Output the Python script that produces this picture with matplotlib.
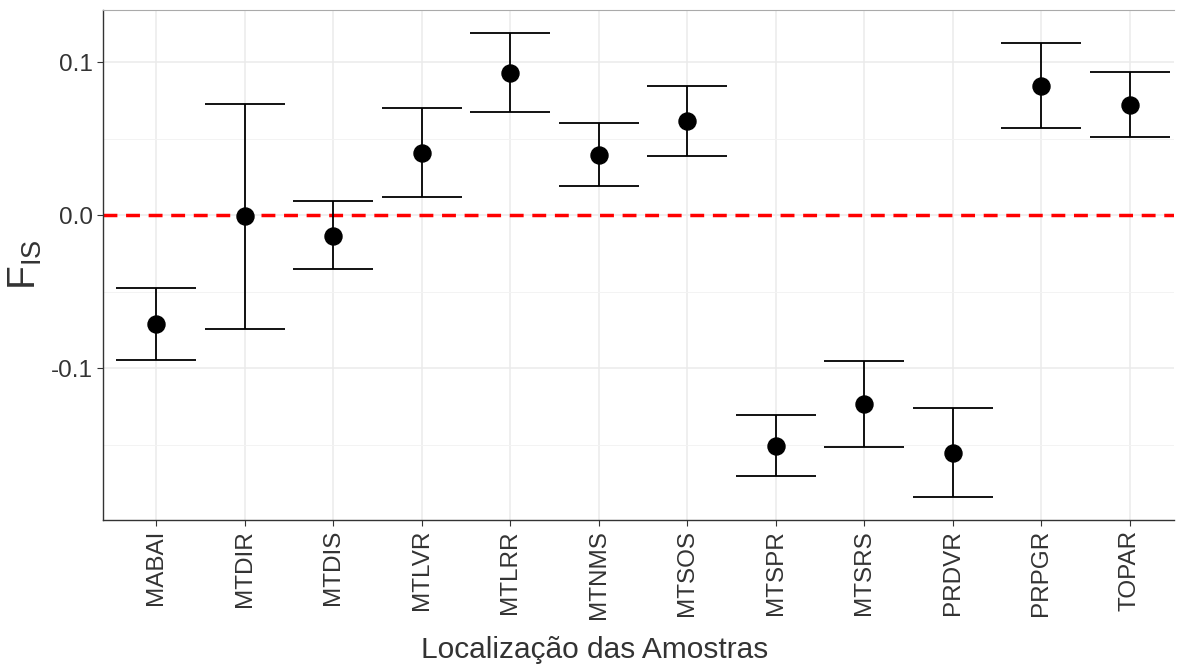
import matplotlib
matplotlib.use("Agg")
from matplotlib import pyplot as plt
from matplotlib.ticker import MultipleLocator

plt.rcParams["font.family"] = ["Liberation Sans", "DejaVu Sans"]

sites = ["MABAI", "MTDIR", "MTDIS", "MTLVR", "MTLRR", "MTNMS",
         "MTSOS", "MTSPR", "MTSRS", "PRDVR", "PRPGR", "TOPAR"]
fis = [-0.0712, -0.0007, -0.0137, 0.0405, 0.0928, 0.0392,
       0.0614, -0.1510, -0.1235, -0.1556, 0.0843, 0.0719]
upper = [-0.0477, 0.0725, 0.0092, 0.0699, 0.1190, 0.0601,
         0.0843, -0.1307, -0.0954, -0.1261, 0.1124, 0.0935]
lower = [-0.0948, -0.0745, -0.0353, 0.0118, 0.0673, 0.0190,
         0.0386, -0.1706, -0.1516, -0.1843, 0.0569, 0.0510]

x = list(range(len(sites)))
yerr = [[f - l for f, l in zip(fis, lower)], [u - f for f, u in zip(fis, upper)]]

fig = plt.figure(figsize=(11.77, 6.68), dpi=100)
ax = fig.add_axes([0.0875, 0.222, 0.91, 0.763])

ax.axhline(0, color="#ff0000", linestyle=(0, (4, 2.5)), linewidth=2.5, zorder=2)
ax.errorbar(x, fis, yerr=yerr, fmt="none", ecolor="black", elinewidth=1.3,
            capsize=28.5, capthick=1.3, zorder=3)
ax.scatter(x, fis, s=150, color="black", zorder=4)

ax.set_xlim(-0.6, 11.5)
ax.set_ylim(-0.199, 0.134)
ax.yaxis.set_major_locator(MultipleLocator(0.1))
ax.yaxis.set_minor_locator(MultipleLocator(0.05))
ax.set_xticks(x)
ax.set_xticklabels(sites, rotation=90)
ax.set_yticklabels(["-0.1" if v < -0.05 else ("0.0" if abs(v) < 0.05 else "0.1")
                    for v in ax.get_yticks()])

ax.grid(which="major", color="#ebebeb", linewidth=1.1, zorder=0)
ax.grid(which="minor", axis="y", color="#f3f3f3", linewidth=0.7, zorder=0)
ax.set_axisbelow(True)

for s in ["left", "bottom"]:
    ax.spines[s].set_color("#333333")
    ax.spines[s].set_linewidth(1.0)
ax.spines["top"].set_color("#aaaaaa")
ax.spines["right"].set_visible(False)

ax.tick_params(axis="both", which="major", labelsize=17.5, colors="#333333",
               length=4, width=0.8, labelcolor="#333333")
ax.tick_params(axis="y", which="minor", length=0)

ax.set_xlabel("Localização das Amostras", fontsize=21.5, color="#333333")
ax.xaxis.set_label_coords(0.459, -0.228)
ax.set_ylabel(r"F$_\mathregular{IS}$", fontsize=28, color="#333333", labelpad=5)

fig.savefig("out.png", dpi=100)
